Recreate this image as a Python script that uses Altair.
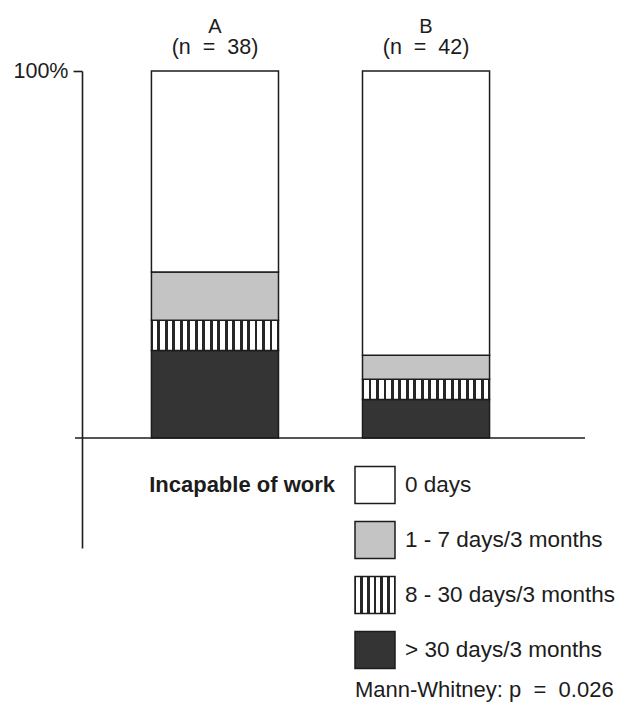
import altair as alt
import pandas as pd

# ---------------- data ----------------
groups = ["A", "B"]
group_n = [38, 42]
# stack order, bottom to top
categories = ["> 30 days/3 months", "8 - 30 days/3 months", "1 - 7 days/3 months", "0 days"]
pct_A = [23.8, 8.3, 13.1, 54.8]
pct_B = [10.5, 5.5, 6.5, 77.5]
# legend order, top to bottom
legend_order = ["0 days", "1 - 7 days/3 months", "8 - 30 days/3 months", "> 30 days/3 months"]
legend_title = "Incapable of work"
test_note = "Mann-Whitney: p\u00a0\u00a0=\u00a0\u00a00.026"

# ---------------- style ----------------
FONT = "Liberation Sans"
INK = "#1c1c1c"
DARK = "#343434"
STIPPLE = "#c4c4c4"


def stripes(n, w=0.38, ink="#262626", paper="white"):
    stops = []
    for k in range(n + 1):
        c = k / n
        a = round(max(0.0, c - w / (2 * n)), 4)
        b = round(min(1.0, c + w / (2 * n)), 4)
        if a > 0:
            stops.append(alt.GradientStop(offset=a, color=paper))
        stops.append(alt.GradientStop(offset=a, color=ink))
        stops.append(alt.GradientStop(offset=b, color=ink))
        if b < 1:
            stops.append(alt.GradientStop(offset=b, color=paper))
    return alt.LinearGradient(gradient="linear", stops=stops, x1=0, x2=1, y1=0, y2=0)


bar_fill = {
    "0 days": "white",
    "1 - 7 days/3 months": STIPPLE,
    "8 - 30 days/3 months": stripes(17),
    "> 30 days/3 months": DARK,
}
legend_fill = {
    "0 days": "white",
    "1 - 7 days/3 months": STIPPLE,
    "8 - 30 days/3 months": stripes(6),
    "> 30 days/3 months": DARK,
}

rows = []
for g, vals in zip(groups, [pct_A, pct_B]):
    for i, (c, v) in enumerate(zip(categories, vals)):
        rows.append({"group": g, "cat": c, "pct": v, "order": i})
bars_df = pd.DataFrame(rows)

xscale = alt.Scale(domain=groups, paddingInner=0.398, paddingOuter=0.329)
yscale = alt.Scale(domain=[-30, 100], nice=False, zero=False)
legscale = alt.Scale(domain=legend_order, range=[386.5, 606.5],
                     paddingInner=0.327, paddingOuter=0.1636)

y_axis = alt.Axis(values=[100], labelExpr="'100%'", grid=False, title=None,
                  domainColor=INK, domainWidth=1.6, tickColor=INK, tickWidth=1.6,
                  tickSize=9, labelFont=FONT, labelFontSize=21.5, labelColor=INK,
                  labelPadding=5)

base = alt.Chart(bars_df).transform_stack(
    stack="pct", groupby=["group"], as_=["y0", "y1"],
    sort=[alt.SortField("order", order="ascending")],
)

layers = []
for i, cat in enumerate(categories):
    layers.append(
        base.transform_filter(alt.datum.cat == cat)
        .mark_bar(fill=bar_fill[cat], stroke=INK, strokeWidth=1.5)
        .encode(
            x=alt.X("group:N", scale=xscale, axis=None),
            y=alt.Y("y0:Q", scale=yscale, axis=y_axis if i == 0 else None),
            y2="y1:Q",
        )
    )

# baseline
layers.append(
    alt.Chart(pd.DataFrame({"v": [0]})).mark_rule(color=INK, strokeWidth=1.5).encode(
        y=alt.Y("v:Q", scale=yscale, axis=None),
        x=alt.value(-7), x2=alt.value(503),
    )
)

# group titles
top_df = pd.DataFrame({
    "group": groups,
    "n": [f"(n\u00a0\u00a0=\u00a0\u00a0{n})" for n in group_n],
})
layers.append(
    alt.Chart(top_df).mark_text(font=FONT, fontSize=20, color=INK).encode(
        x=alt.X("group:N", scale=xscale, axis=None), y=alt.value(-44), text="group:N")
)
layers.append(
    alt.Chart(top_df).mark_text(font=FONT, fontSize=21.5, color=INK).encode(
        x=alt.X("group:N", scale=xscale, axis=None), y=alt.value(-23), text="n:N")
)

# legend
leg_df = pd.DataFrame({"cat": legend_order})
for cat in legend_order:
    layers.append(
        alt.Chart(leg_df).transform_filter(alt.datum.cat == cat)
        .mark_rect(fill=legend_fill[cat], stroke=INK, strokeWidth=1.5)
        .encode(y=alt.Y("cat:N", scale=legscale, axis=None),
                x=alt.value(273), x2=alt.value(313))
    )
layers.append(
    alt.Chart(leg_df).mark_text(font=FONT, fontSize=22.5, color=INK, align="left", baseline="middle")
    .encode(y=alt.Y("cat:N", scale=legscale, axis=None), x=alt.value(323), text="cat:N")
)
layers.append(
    alt.Chart(leg_df).transform_filter(alt.datum.cat == legend_order[0])
    .mark_text(font=FONT, fontSize=22, fontWeight="bold", color=INK, align="right", baseline="middle")
    .encode(y=alt.Y("cat:N", scale=legscale, axis=None), x=alt.value(253),
            text=alt.value(legend_title))
)
layers.append(
    alt.Chart(leg_df).transform_filter(alt.datum.cat == legend_order[0])
    .mark_text(font=FONT, fontSize=22, color=INK, align="left", baseline="alphabetic")
    .encode(x=alt.value(273), y=alt.value(626), text=alt.value(test_note))
)

chart = (
    alt.layer(*layers)
    .resolve_scale(y="independent")
    .properties(
        width=477, height=477,
        autosize=alt.AutoSizeParams(type="none"),
        padding={"left": 74, "top": 63, "right": 74, "bottom": 158},
        background="white",
    )
    .configure_view(stroke=None)
)

chart.save("out.html", embed_options={"renderer": "svg", "actions": False})
